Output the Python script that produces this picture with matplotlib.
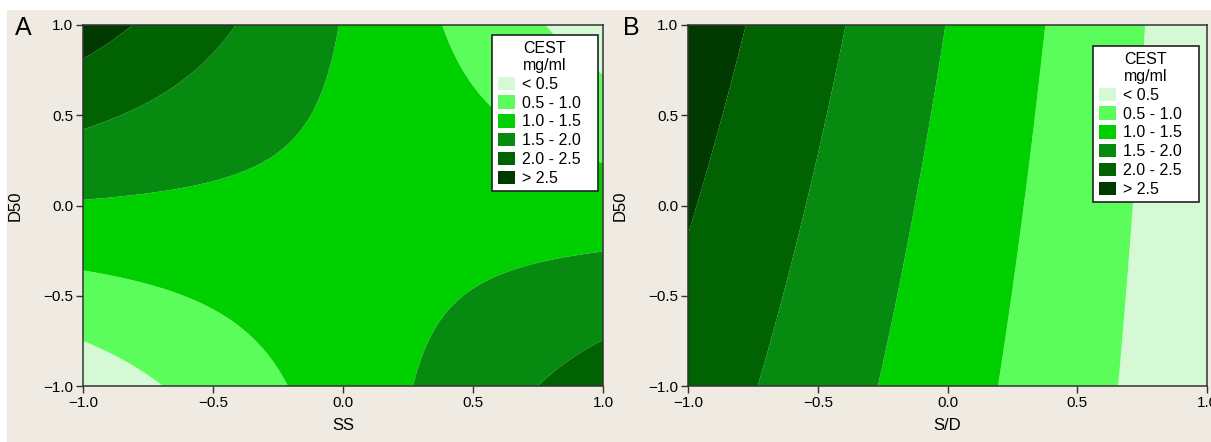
import numpy as np
import matplotlib
matplotlib.use("Agg")
import matplotlib.pyplot as plt
from matplotlib.patches import Patch, Rectangle

plt.rcParams['font.family'] = ['Liberation Sans', 'DejaVu Sans']

# ---- data ----
# contour class boundaries (CEST, mg/ml) and legend labels
levels = [0.5, 1.0, 1.5, 2.0, 2.5]
class_labels = ['< 0.5', '0.5 - 1.0', '1.0 - 1.5', '1.5 - 2.0', '2.0 - 2.5', '> 2.5']
class_colors = ['#D4F9D4', '#5AFD5A', '#00D000', '#068A10', '#006200', '#003A00']

# fitted response-surface coefficients in coded units:
# [intercept, x-factor, D50, x-factor * D50]
coef_A = [1.35, -0.11, 0.13, -1.15]   # x-factor = SS
coef_B = [1.35, -1.19, 0.14, -0.11]   # x-factor = S/D

x_labels = ['SS', 'S/D']
y_label = 'D50'
panel_tags = ['A', 'B']
ticks = [-1.0, -0.5, 0.0, 0.5, 1.0]

# ---- figure ----
W, H = 1211, 442
fig = plt.figure(figsize=(W / 100, H / 100), dpi=100, facecolor='white')
fig.patches.append(Rectangle((7 / W, 0), 1 - 7 / W, 1 - 10 / H,
                             transform=fig.transFigure, facecolor='#EFEBE2',
                             edgecolor='none', zorder=-10))

axes_px = [(83, 603), (688, 1207)]
top_px, bot_px = 25, 386
legend_box_px = [(492, 598, 35, 187), (1093, 1199, 46, 197)]
tag_x = [15, 623]

gx = np.linspace(-1, 1, 401)
gy = np.linspace(-1, 1, 401)
X, Y = np.meshgrid(gx, gy)

bounds = [-100] + levels + [100]

for i, coef in enumerate([coef_A, coef_B]):
    l, r = axes_px[i]
    aw, ah = r - l, bot_px - top_px
    ax = fig.add_axes([l / W, 1 - bot_px / H, aw / W, ah / H])
    Z = coef[0] + coef[1] * X + coef[2] * Y + coef[3] * X * Y
    ax.contourf(X, Y, Z, levels=bounds, colors=class_colors, antialiased=True)
    ax.set_xlim(-1, 1)
    ax.set_ylim(-1, 1)
    ax.set_xticks(ticks)
    ax.set_yticks(ticks)
    ax.set_xticklabels([f'{t:.1f}'.replace('-', '\u2212') for t in ticks])
    ax.set_yticklabels([f'{t:.1f}'.replace('-', '\u2212') for t in ticks])
    ax.tick_params(direction='out', length=5, width=1, labelsize=11, pad=2,
                   color='#333333', labelcolor='black')
    for s in ax.spines.values():
        s.set_color('#333333')
        s.set_linewidth(1.1)
    ax.set_xlabel(x_labels[i], fontsize=12, labelpad=6)
    ax.set_ylabel(y_label, fontsize=12)
    ax.yaxis.set_label_coords(-0.116, 0.5)

    lx0, lx1, ly0, ly1 = legend_box_px[i]
    bx = (lx0 - l) / aw
    bw = (lx1 - lx0) / aw
    btop = (bot_px - ly0) / ah
    bh = (ly1 - ly0) / ah
    handles = [Patch(facecolor=c, edgecolor='none') for c in class_colors]
    leg = ax.legend(handles, class_labels, title='CEST\nmg/ml', loc='upper left',
                    bbox_to_anchor=(bx, btop - bh, bw, bh), mode='expand',
                    borderaxespad=0, fontsize=11.5, title_fontsize=11.5,
                    frameon=True, fancybox=False,
                    handlelength=1.1, handleheight=0.9, handletextpad=0.45,
                    labelspacing=0.23, borderpad=0.35)
    leg.get_frame().set_edgecolor('#222222')
    leg.get_frame().set_linewidth(1.2)
    leg.get_frame().set_facecolor('white')
    leg.get_frame().set_alpha(1)

    fig.text(tag_x[i] / W, 1 - 35 / H, panel_tags[i], fontsize=18,
             ha='left', va='baseline')

fig.savefig('out.png', dpi=100, facecolor=fig.get_facecolor())
